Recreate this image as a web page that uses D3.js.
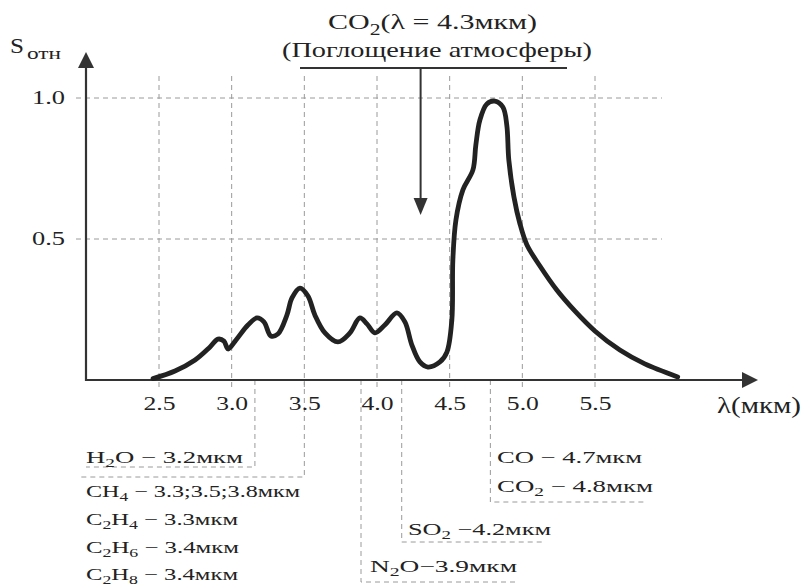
<!DOCTYPE html>
<html>
<head>
<meta charset="utf-8">
<script src="https://d3js.org/d3.v7.min.js"></script>
<style>
  body { margin: 0; background: #fff; }
  svg text { font-family: "Liberation Serif", "Times New Roman", serif; fill: #222; }
</style>
</head>
<body>
<svg id="chart"></svg>
<script>
'use strict';

// tick values
var lambdaTicks = [2.5, 3.0, 3.5, 4.0, 4.5, 5.0, 5.5];
var sTicks = [0.5, 1.0];

// spectrum (lambda in мкм, relative S)
var spectrumLambda = [2.459, 2.610, 2.748, 2.851, 2.906, 2.947, 2.975, 3.030, 3.112, 3.174,
                      3.222, 3.270, 3.318, 3.380, 3.415, 3.470, 3.525, 3.573, 3.642, 3.731,
                      3.814, 3.882, 3.931, 3.986, 4.054, 4.137, 4.192, 4.240, 4.295, 4.350,
                      4.433, 4.481, 4.515, 4.522, 4.543, 4.591, 4.660, 4.680, 4.708, 4.756,
                      4.811, 4.866, 4.893, 4.907, 4.942, 4.983, 5.031, 5.120, 5.237, 5.361,
                      5.499, 5.671, 5.843, 6.069];
var spectrumS = [0.005, 0.032, 0.071, 0.117, 0.145, 0.138, 0.110, 0.142, 0.195, 0.220,
                 0.206, 0.156, 0.163, 0.230, 0.291, 0.326, 0.298, 0.230, 0.167, 0.135,
                 0.167, 0.220, 0.199, 0.167, 0.195, 0.238, 0.206, 0.124, 0.064, 0.046,
                 0.064, 0.099, 0.213, 0.426, 0.567, 0.674, 0.745, 0.833, 0.922, 0.979,
                 0.989, 0.968, 0.904, 0.780, 0.650, 0.555, 0.480, 0.405, 0.319, 0.245,
                 0.174, 0.106, 0.057, 0.011];

// absorption bands of gases, "_n" = subscript digit
var leftGasLabels = ['H_2O − 3.2мкм', 'CH_4 − 3.3;3.5;3.8мкм', 'C_2H_4 − 3.3мкм', 'C_2H_6 − 3.4мкм', 'C_2H_8 − 3.4мкм'];
var coLabels = ['CO − 4.7мкм', 'CO_2 − 4.8мкм'];
var so2Label = 'SO_2 −4.2мкм';
var n2oLabel = 'N_2O−3.9мкм';
// wavelengths where leader lines leave the axis
var leaderLambda = [3.16, 3.5, 3.89, 4.17, 4.78];

var titleLines = ['CO_2(λ = 4.3мкм)', '(Поглощение атмосферы)'];
var co2Lambda = 4.3;

var W = 806, H = 588;
var svg = d3.select('#chart').attr('width', W).attr('height', H);

var x = d3.scaleLinear().domain([2.5, 5.5]).range([159, 595]);
var y = d3.scaleLinear().domain([0, 1]).range([380, 98]);

var grid = '#9a9a9a', ink = '#222';

// writes a label with subscripts, stretched to given width
function label(g, str, px, py, size, width, anchor) {
    var t = g.append('text')
        .attr('x', px).attr('y', py)
        .attr('font-size', size)
        .attr('text-anchor', anchor || 'start');
    var parts = str.split(/_(\d)/);
    var shifted = false;
    parts.forEach(function(p, i) {
        if (p === '') return;
        var ts = t.append('tspan').text(p);
        if (i % 2 === 1) {
            ts.attr('font-size', size * 0.72).attr('dy', size * 0.25);
            shifted = true;
        } else if (shifted) {
            ts.attr('dy', -size * 0.25);
            shifted = false;
        }
    });
    if (width) t.attr('textLength', width).attr('lengthAdjust', 'spacingAndGlyphs');
    return t;
}

function dashed(g, pts) {
    g.append('path')
        .attr('d', d3.line()(pts))
        .attr('fill', 'none')
        .attr('stroke', grid)
        .attr('stroke-width', 1)
        .attr('stroke-dasharray', '5,4');
}

// grid
var gGrid = svg.append('g');
sTicks.forEach(function(v) {
    dashed(gGrid, [[76, y(v)], [662, y(v)]]);
});
lambdaTicks.forEach(function(v) {
    dashed(gGrid, [[x(v), 76], [x(v), 388]]);
});

// leader lines below the axis
var gLead = svg.append('g');
dashed(gLead, [[x(leaderLambda[0]), 380], [x(leaderLambda[0]), 467], [86, 467]]);
dashed(gLead, [[x(leaderLambda[1]), 380], [x(leaderLambda[1]), 477], [80, 477]]);
dashed(gLead, [[x(leaderLambda[2]), 380], [x(leaderLambda[2]), 582], [515, 582]]);
dashed(gLead, [[x(leaderLambda[3]), 380], [x(leaderLambda[3]), 542], [545, 542]]);
dashed(gLead, [[x(leaderLambda[4]), 380], [x(leaderLambda[4]), 502], [645, 502]]);

// axes with arrows
var gAx = svg.append('g');
gAx.append('line').attr('x1', 86).attr('y1', 381).attr('x2', 86).attr('y2', 62)
    .attr('stroke', '#333').attr('stroke-width', 2.2);
gAx.append('path').attr('d', 'M86,52 L78,68 L94,68 Z').attr('fill', '#333');
gAx.append('line').attr('x1', 85).attr('y1', 380).attr('x2', 748).attr('y2', 380)
    .attr('stroke', '#333').attr('stroke-width', 2.2);
gAx.append('path').attr('d', 'M758,380 L742,372 L742,388 Z').attr('fill', '#333');

var xAxis = svg.append('g')
    .attr('transform', 'translate(0,380)')
    .call(d3.axisBottom(x).tickValues(lambdaTicks).tickFormat(d3.format('.1f')).tickSize(0).tickPadding(17));
xAxis.select('.domain').remove();
xAxis.selectAll('text')
    .attr('font-size', 18).attr('font-family', null).attr('fill', ink)
    .attr('textLength', 32).attr('lengthAdjust', 'spacingAndGlyphs');

var yAxis = svg.append('g')
    .attr('transform', 'translate(86,0)')
    .call(d3.axisLeft(y).tickValues(sTicks).tickFormat(d3.format('.1f')).tickSize(0).tickPadding(21));
yAxis.select('.domain').remove();
yAxis.selectAll('text')
    .attr('font-size', 18).attr('font-family', null).attr('fill', ink)
    .attr('textLength', 33).attr('lengthAdjust', 'spacingAndGlyphs');

// axis names
var gTxt = svg.append('g');
label(gTxt, 'S', 10, 53, 21, 14);
label(gTxt, 'отн', 27, 59, 16, 34);
label(gTxt, 'λ(мкм)', 717, 413, 23, 84);

// spectrum
var spectrum = spectrumLambda.map(function(l, i) { return [l, spectrumS[i]]; });
svg.append('path')
    .datum(spectrum)
    .attr('fill', 'none')
    .attr('stroke', ink)
    .attr('stroke-width', 4.8)
    .attr('stroke-linejoin', 'round')
    .attr('stroke-linecap', 'round')
    .attr('d', d3.line()
        .x(function(d) { return x(d[0]); })
        .y(function(d) { return y(d[1]); })
        .curve(d3.curveCatmullRom.alpha(0.5)));

// CO2 atmospheric absorption callout
var gCall = svg.append('g');
label(gCall, titleLines[0], 328, 29, 22, 209);
label(gCall, titleLines[1], 282, 57, 22, 310);
gCall.append('line').attr('x1', 300).attr('y1', 68).attr('x2', 567).attr('y2', 68)
    .attr('stroke', '#333').attr('stroke-width', 2);
gCall.append('line').attr('x1', x(co2Lambda)).attr('y1', 68).attr('x2', x(co2Lambda)).attr('y2', 202)
    .attr('stroke', '#333').attr('stroke-width', 2);
gCall.append('path')
    .attr('d', 'M' + x(co2Lambda) + ',215 l-7,-17 l14,0 Z')
    .attr('fill', '#333');

// gas labels
var gGas = svg.append('g');
var leftBase = [463, 497, 525, 553, 580];
var leftWidth = [157, 214, 152, 153, 152];
leftGasLabels.forEach(function(s, i) {
    label(gGas, s, 86, leftBase[i], 17, leftWidth[i]);
});
label(gGas, coLabels[0], 497, 463, 17, 145);
label(gGas, coLabels[1], 497, 492, 17, 156);
label(gGas, so2Label, 408, 535, 17, 143);
label(gGas, n2oLabel, 370, 572, 17, 147);
</script>
</body>
</html>
